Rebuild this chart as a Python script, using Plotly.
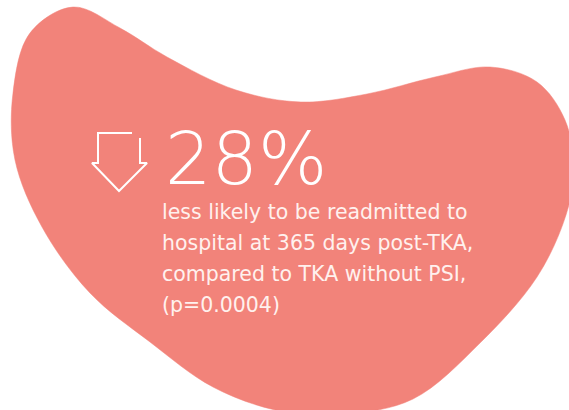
import plotly.graph_objects as go

# Blob outline (pixel-like coordinates, y down)
blob_x = [73, 120, 167, 236, 301, 367, 435, 490, 537, 565, 574, 566, 537, 480, 413, 345, 280, 213, 150, 90,
          42, 15, 13, 30, 73]
blob_y = [7, 28, 57, 90, 102, 94, 77, 67, 82, 120, 170, 215, 277, 343, 399, 414, 411, 387, 342, 293,
          227, 160, 93, 33, 7]

# Arrow outline (open at top-right, as in the original)
arrow_x = [132, 98, 98, 92, 119, 147, 140, 140]
arrow_y = [133, 133, 163, 163, 191, 163, 163, 138]

headline = "28%"
body_lines = [
    "less likely to be readmitted to",
    "hospital at 365 days post-TKA,",
    "compared to TKA without PSI,",
    "(p=0.0004)",
]
body_y = [212, 243, 274, 305]

BLOB = "#F2837A"

fig = go.Figure()
fig.add_trace(go.Scatter(x=blob_x, y=blob_y, mode="lines", fill="toself",
                         fillcolor=BLOB, line=dict(color=BLOB, width=0.5, shape="spline", smoothing=1.0),
                         hoverinfo="skip", showlegend=False))
fig.add_trace(go.Scatter(x=arrow_x, y=arrow_y, mode="lines",
                         line=dict(color="white", width=2), hoverinfo="skip", showlegend=False))

fig.add_annotation(x=163, y=158, xref="x", yref="y", text=headline, showarrow=False,
                   xanchor="left", yanchor="middle",
                   font=dict(family="DejaVu Sans", size=73, color="white", weight=200))
for t, yy in zip(body_lines, body_y):
    fig.add_annotation(x=160, y=yy, xref="x", yref="y", text=t, showarrow=False,
                       xanchor="left", yanchor="middle",
                       font=dict(family="DejaVu Sans", size=20.5, color="#FFF1EE", weight=400))

fig.update_xaxes(range=[0, 569], visible=False, fixedrange=True)
fig.update_yaxes(range=[410, 0], visible=False, fixedrange=True)
fig.update_layout(width=569, height=410, margin=dict(l=0, r=0, t=0, b=0),
                  paper_bgcolor="white", plot_bgcolor="rgba(0,0,0,0)")
fig.write_html("out.html", config={"displayModeBar": False},
               post_script="document.body.style.margin='0px';")
